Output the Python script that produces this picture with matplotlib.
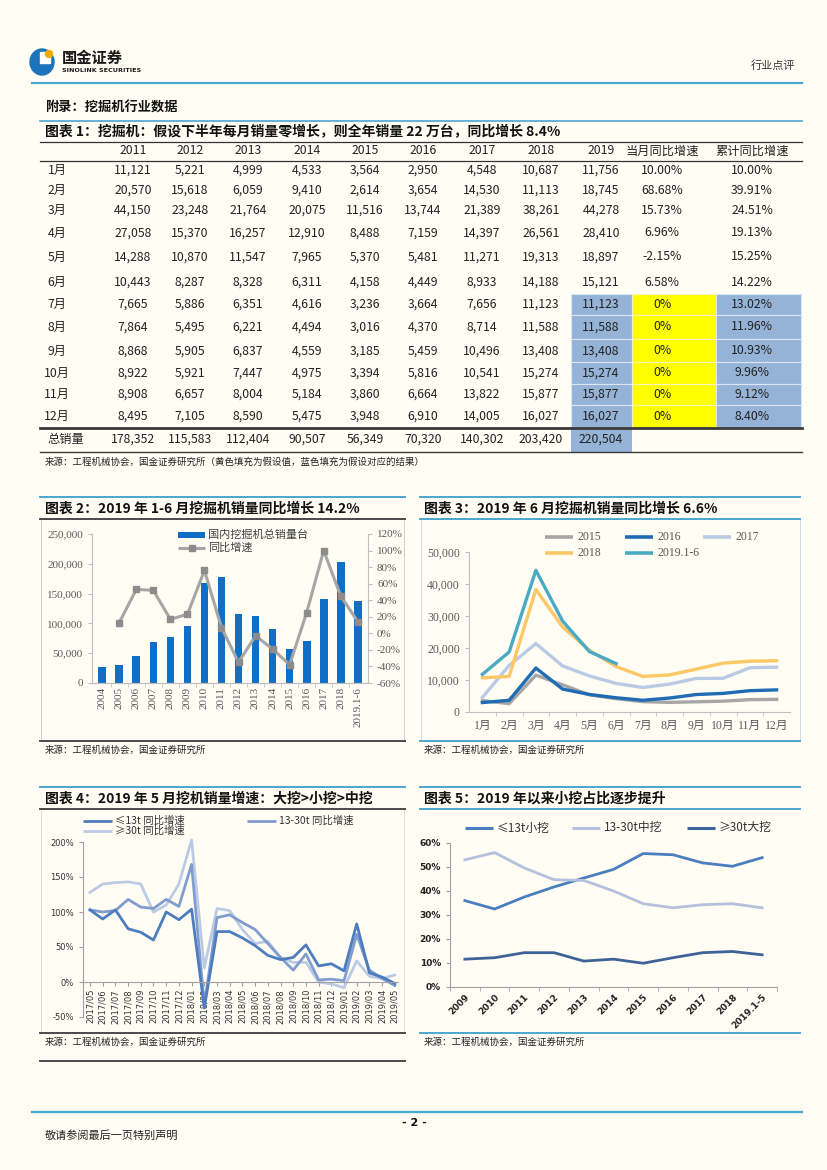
import numpy as np
import matplotlib
matplotlib.use("Agg")
import matplotlib.pyplot as plt
from matplotlib.lines import Line2D
from matplotlib.patches import Rectangle, Ellipse

plt.rcParams['font.family'] = ['Noto Sans CJK SC', 'DejaVu Sans']
plt.rcParams['axes.unicode_minus'] = False

W, H = 827, 1170
BG = '#fffdf4'
BLUE_LINE = '#4aa6cf'
DARK_LINE = '#4a4a4a'
SERIF = ['Liberation Serif', 'Noto Sans CJK SC']
CJK = ['Noto Sans CJK SC', 'DejaVu Sans']

# 图表1 表格数据
months = ['1月', '2月', '3月', '4月', '5月', '6月', '7月', '8月', '9月', '10月', '11月', '12月']
table_years = ['2011', '2012', '2013', '2014', '2015', '2016', '2017', '2018', '2019']
sales_2011 = [11121, 20570, 44150, 27058, 14288, 10443, 7665, 7864, 8868, 8922, 8908, 8495]
sales_2012 = [5221, 15618, 23248, 15370, 10870, 8287, 5886, 5495, 5905, 5921, 6657, 7105]
sales_2013 = [4999, 6059, 21764, 16257, 11547, 8328, 6351, 6221, 6837, 7447, 8004, 8590]
sales_2014 = [4533, 9410, 20075, 12910, 7965, 6311, 4616, 4494, 4559, 4975, 5184, 5475]
sales_2015 = [3564, 2614, 11516, 8488, 5370, 4158, 3236, 3016, 3185, 3394, 3860, 3948]
sales_2016 = [2950, 3654, 13744, 7159, 5481, 4449, 3664, 4370, 5459, 5816, 6664, 6910]
sales_2017 = [4548, 14530, 21389, 14397, 11271, 8933, 7656, 8714, 10496, 10541, 13822, 14005]
sales_2018 = [10687, 11113, 38261, 26561, 19313, 14188, 11123, 11588, 13408, 15274, 15877, 16027]
sales_2019 = [11756, 18745, 44278, 28410, 18897, 15121, 11123, 11588, 13408, 15274, 15877, 16027]
totals = [178352, 115583, 112404, 90507, 56349, 70320, 140302, 203420, 220504]
yoy_month = ['10.00%', '68.68%', '15.73%', '6.96%', '-2.15%', '6.58%', '0%', '0%', '0%', '0%', '0%', '0%']
yoy_cum = ['10.00%', '39.91%', '24.51%', '19.13%', '15.25%', '14.22%', '13.02%', '11.96%', '10.93%',
           '9.96%', '9.12%', '8.40%']

# 图表2
hist_years = ['2004', '2005', '2006', '2007', '2008', '2009', '2010', '2011', '2012', '2013', '2014',
              '2015', '2016', '2017', '2018', '2019.1-6']
annual_sales = [26500, 29500, 45000, 68000, 78000, 95500, 167000, 178352, 115583, 112404, 90507,
                56349, 70320, 140302, 203420, 137207]
annual_growth = [np.nan, 13, 53, 52, 17, 23, 76, 7, -35, -3, -19, -38, 25, 100, 45, 14.2]

# 图表4
ton_months = ['2017/05', '2017/06', '2017/07', '2017/08', '2017/09', '2017/10', '2017/11', '2017/12',
              '2018/01', '2018/02', '2018/03', '2018/04', '2018/05', '2018/06', '2018/07', '2018/08',
              '2018/09', '2018/10', '2018/11', '2018/12', '2019/01', '2019/02', '2019/03', '2019/04',
              '2019/05']
small_yoy = [103, 90, 103, 76, 71, 60, 100, 89, 104, -37, 72, 72, 63, 52, 38, 32, 35, 53, 23, 26,
             16, 83, 13, 7, -2]
mid_yoy = [103, 100, 102, 118, 107, 105, 118, 108, 168, -33, 92, 96, 85, 75, 55, 35, 17, 40, 3, 4,
           2, 68, 17, 5, -5]
large_yoy = [128, 140, 142, 143, 140, 100, 110, 140, 203, 20, 105, 102, 75, 55, 58, 35, 28, 28, 0, -3,
             -8, 30, 8, 5, 10]

# 图表5
share_years = ['2009', '2010', '2011', '2012', '2013', '2014', '2015', '2016', '2017', '2018', '2019.1-5']
share_small = [36, 32.5, 37.5, 41.7, 45.4, 49, 55.6, 55.1, 51.7, 50.3, 53.9]
share_mid = [53, 56, 49.6, 44.7, 44.4, 40, 34.7, 33, 34.3, 34.7, 33]
share_large = [11.6, 12.2, 14.3, 14.3, 10.8, 11.6, 9.9, 12.2, 14.3, 14.8, 13.4]


def fx(x):
    return x / W


def fy(y):
    return 1 - y / H


def box(x0, y0, x1, y1):
    return [fx(x0), fy(y1), (x1 - x0) / W, (y1 - y0) / H]


fig = plt.figure(figsize=(W / 100, H / 100), dpi=100, facecolor=BG)


def hline(y, x0, x1, color, lw=1.0):
    fig.add_artist(Line2D([fx(x0), fx(x1)], [fy(y), fy(y)], color=color, lw=lw,
                          transform=fig.transFigure))


def rect(x0, y0, x1, y1, **kw):
    fig.add_artist(Rectangle((fx(x0), fy(y1)), (x1 - x0) / W, (y1 - y0) / H,
                             transform=fig.transFigure, **kw))


def txt(x, y, s, **kw):
    kw.setdefault('va', 'center')
    kw.setdefault('family', CJK)
    fig.text(fx(x), fy(y), s, **kw)


def leg_line(x0, x1, y, color, lw=2.5, marker=None):
    fig.add_artist(Line2D([fx(x0), fx(x1)], [fy(y), fy(y)], color=color, lw=lw,
                          transform=fig.transFigure, solid_capstyle='butt'))
    if marker:
        fig.add_artist(Line2D([fx((x0 + x1) / 2)], [fy(y)], color=color, marker=marker, ms=5,
                              mfc='#8c8c8c', mec='#8c8c8c', transform=fig.transFigure))


# ---- 页眉 ----
fig.add_artist(Ellipse((fx(42), fy(62)), 24 / W, 26 / H, color='#1b74bb', transform=fig.transFigure))
rect(40, 52, 50, 63, color='white')
fig.add_artist(Ellipse((fx(49), fy(54)), 7 / W, 7 / H, color='#f2a900', transform=fig.transFigure))
txt(62, 58, '国金证券', fontsize=11, fontweight='bold', color='#1a1a1a')
txt(62, 71, 'SINOLINK SECURITIES', fontsize=4.6, fontweight='bold', color='#1a1a1a', family='DejaVu Sans')
txt(795, 66, '行业点评', fontsize=8, color='#333333', ha='right')
hline(83, 32, 802, BLUE_LINE, 1.6)

txt(45, 108, '附录：挖掘机行业数据', fontsize=9.5, fontweight='bold', color='#111111')

# ---- 图表1 表格 ----
hline(121, 40, 802, BLUE_LINE, 1.2)
txt(45, 132, '图表 1：挖掘机：假设下半年每月销量零增长，则全年销量 22 万台，同比增长 8.4%',
    fontsize=10, fontweight='bold', style='italic', color='#111111')
hline(142, 40, 802, '#333333', 0.9)
hline(161, 40, 802, '#333333', 0.9)

col_x = [57, 133, 190, 248, 307, 365, 423, 482, 541, 601, 662, 752]
row_y = [170, 190, 210, 233, 257, 282, 304, 327, 351, 373, 394, 416]
row_top = [294, 315, 339, 362, 384, 405, 428]

for i in range(6):
    rect(571, row_top[i], 632, row_top[i + 1], facecolor='#95b3d7', edgecolor='#dce6f2', lw=0.8)
    rect(632, row_top[i], 716, row_top[i + 1], facecolor='#ffff00', edgecolor='#f5f5c8', lw=0.8)
    rect(716, row_top[i], 801, row_top[i + 1], facecolor='#95b3d7', edgecolor='#dce6f2', lw=0.8)
rect(571, 428, 632, 452, facecolor='#95b3d7', edgecolor='none')

header = [''] + table_years + ['当月同比增速', '累计同比增速']
for x, h in zip(col_x, header):
    txt(x, 151, h, fontsize=8.8, ha='center', color='#222222')

year_sales = [sales_2011, sales_2012, sales_2013, sales_2014, sales_2015, sales_2016,
              sales_2017, sales_2018, sales_2019]
for r, m in enumerate(months):
    y = row_y[r]
    txt(col_x[0], y, m, fontsize=8.8, ha='center', color='#222222')
    for c, vals in enumerate(year_sales):
        txt(col_x[c + 1], y, f'{vals[r]:,}', fontsize=8.8, ha='center', color='#222222')
    txt(col_x[10], y, yoy_month[r], fontsize=8.8, ha='center', color='#222222')
    txt(col_x[11], y, yoy_cum[r], fontsize=8.8, ha='center', color='#222222')

hline(428, 40, 802, '#3a3a3a', 2.0)
txt(47, 439, '总销量', fontsize=8.8, ha='left', color='#222222')
for c, t in enumerate(totals):
    txt(col_x[c + 1], 439, f'{t:,}', fontsize=8.8, ha='center', color='#222222')
hline(452, 40, 802, '#3a3a3a', 1.0)
txt(45, 462, '来源：工程机械协会，国金证券研究所（黄色填充为假设值，蓝色填充为假设对应的结果）',
    fontsize=6.8, color='#222222')

# ---- 分区线与标题 ----
for top, bot, t_l, t_r in [(497, 741, '图表 2：2019 年 1-6 月挖掘机销量同比增长 14.2%',
                            '图表 3：2019 年 6 月挖掘机销量同比增长 6.6%'),
                           (787, 1033, '图表 4：2019 年 5 月挖机销量增速：大挖>小挖>中挖',
                            '图表 5：2019 年以来小挖占比逐步提升')]:
    hline(top, 40, 405, BLUE_LINE, 1.4)
    hline(top, 420, 800, BLUE_LINE, 1.4)
    txt(45, top + 12, t_l, fontsize=10, fontweight='bold', style='italic', color='#111111')
    txt(424, top + 12, t_r, fontsize=10, fontweight='bold', style='italic', color='#111111')
    hline(top + 22, 40, 405, DARK_LINE, 1.4)
    hline(top + 22, 420, 800, BLUE_LINE, 1.4)
    hline(bot, 40, 405, DARK_LINE, 1.4)
    hline(bot, 420, 800, BLUE_LINE, 1.4)
    txt(45, bot + 9, '来源：工程机械协会，国金证券研究所', fontsize=6.8, color='#222222')
    txt(424, bot + 9, '来源：工程机械协会，国金证券研究所', fontsize=6.8, color='#222222')
hline(1061, 40, 405, DARK_LINE, 1.4)

rect(41, 519, 404, 740, facecolor='none', edgecolor='#cfcfcf', lw=0.7)
rect(421, 519, 800, 740, facecolor='none', edgecolor='#c9dde8', lw=0.7)
rect(41, 809, 404, 1032, facecolor='none', edgecolor='#d6d6d6', lw=0.6)


def style_spines(ax, color='#bfbfbf'):
    for s in ax.spines.values():
        s.set_color(color)
        s.set_linewidth(0.8)
    ax.spines['top'].set_visible(False)
    ax.set_facecolor('none')


# ---- 图表2 ----
ax2 = fig.add_axes(box(92, 534, 368, 683))
x2 = np.arange(len(hist_years))
ax2.bar(x2, annual_sales, width=0.45, color='#0f6fc6', zorder=2)
ax2.set_xlim(-0.6, len(hist_years) - 0.4)
ax2.set_ylim(0, 250000)
ax2.set_yticks(range(0, 250001, 50000))
ax2.set_yticklabels([f'{v:,}' for v in range(0, 250001, 50000)])
ax2.set_xticks(x2)
ax2.set_xticklabels(hist_years, rotation=90)
ax2.set_xticks(x2[:-1] + 0.5, minor=True)
ax2.tick_params(axis='x', which='major', length=0, pad=3)
ax2.tick_params(axis='x', which='minor', length=3, color='#bfbfbf')
ax2.tick_params(axis='y', length=3, color='#bfbfbf')
for lab in ax2.get_xticklabels() + ax2.get_yticklabels():
    lab.set_family(SERIF)
    lab.set_fontsize(8)
    lab.set_color('#595959')
style_spines(ax2)
ax2.spines['right'].set_visible(False)

ax2r = ax2.twinx()
ax2r.plot(x2, annual_growth, color='#a6a6a6', lw=2.2, marker='s', ms=5, mfc='#8c8c8c',
          mec='#8c8c8c', zorder=3)
ax2r.set_ylim(-60, 120)
ax2r.set_yticks(range(-60, 121, 20))
ax2r.set_yticklabels([f'{v}%' for v in range(-60, 121, 20)])
ax2r.tick_params(axis='y', length=3, color='#bfbfbf')
for lab in ax2r.get_yticklabels():
    lab.set_family(SERIF)
    lab.set_fontsize(8)
    lab.set_color('#595959')
style_spines(ax2r)
ax2r.spines['left'].set_visible(False)

rect(178, 532, 205, 538, facecolor='#0f6fc6', edgecolor='none')
txt(208, 535, '国内挖掘机总销量台', fontsize=8, color='#404040')
leg_line(178, 205, 548, '#a6a6a6', lw=2.2, marker='s')
txt(208, 548, '同比增速', fontsize=8, color='#404040')

# ---- 图表3 ----
ax3 = fig.add_axes(box(469, 552, 790, 712))
x3 = np.arange(12)
series3 = [('2015', sales_2015, '#a6a6a6'), ('2016', sales_2016, '#1f6cb5'),
           ('2017', sales_2017, '#b9cae4'), ('2018', sales_2018, '#fcc865'),
           ('2019.1-6', sales_2019[:6], '#4aaac4')]
for name, vals, col in series3:
    ax3.plot(x3[:len(vals)], vals, color=col, lw=2.4, solid_joinstyle='round')
ax3.set_xlim(-0.5, 11.5)
ax3.set_ylim(0, 50000)
ax3.set_yticks(range(0, 50001, 10000))
ax3.set_yticklabels([f'{v:,}' for v in range(0, 50001, 10000)])
ax3.set_xticks(x3)
ax3.set_xticklabels(months)
ax3.set_xticks(x3[:-1] + 0.5, minor=True)
ax3.tick_params(axis='x', which='major', length=0, pad=6)
ax3.tick_params(axis='x', which='minor', length=3, color='#bfbfbf')
ax3.tick_params(axis='y', length=3, color='#bfbfbf')
for lab in ax3.get_xticklabels() + ax3.get_yticklabels():
    lab.set_family(SERIF)
    lab.set_fontsize(8.5)
    lab.set_color('#595959')
style_spines(ax3)
ax3.spines['right'].set_visible(False)

leg3 = [(545, 537), (625, 537), (703, 537), (545, 553), (625, 553)]
for (lx, ly), (name, vals, col) in zip(leg3, series3):
    leg_line(lx, lx + 28, ly, col, lw=2.6)
    txt(lx + 32, ly, name, fontsize=8.5, color='#595959', family=SERIF)

# ---- 图表4 ----
ax4 = fig.add_axes(box(83, 842, 398, 1017))
ax4.spines['bottom'].set_position(('data', 0))
x4 = np.arange(len(ton_months))
series4 = [('≤13t 同比增速', small_yoy, '#4d7cbf'), ('13-30t 同比增速', mid_yoy, '#819dcf'),
           ('≥30t 同比增速', large_yoy, '#bccbe5')]
for name, vals, col in series4[::-1]:
    ax4.plot(x4, vals, color=col, lw=2.0, solid_joinstyle='round', clip_on=False)
ax4.set_xlim(-0.55, len(ton_months) - 0.75)
ax4.set_ylim(-50, 200)
ax4.set_yticks(range(-50, 201, 50))
ax4.set_yticklabels([f'{v}%' for v in range(-50, 201, 50)])
ax4.set_xticks(x4)
ax4.set_xticklabels(ton_months)
ax4.tick_params(axis='x', length=3, color='#a0a0a0', pad=2, labelsize=6, labelcolor='#333333',
                labelrotation=90)
ax4.tick_params(axis='y', length=3, color='#a0a0a0', labelsize=6, labelcolor='#333333')
for lab in ax4.get_xticklabels() + ax4.get_yticklabels():
    lab.set_family('DejaVu Sans')
style_spines(ax4, '#a0a0a0')
ax4.spines['right'].set_visible(False)

leg4 = [(83, 821), (247, 821), (83, 831)]
for (lx, ly), (name, vals, col) in zip(leg4, series4):
    leg_line(lx, lx + 29, ly, col, lw=2.0)
    txt(lx + 32, ly, name, fontsize=7.5, color='#333333')

# ---- 图表5 ----
ax5 = fig.add_axes(box(450, 843, 777, 987))
x5 = np.arange(len(share_years))
series5 = [('≤13t小挖', share_small, '#4a7ebf'), ('13-30t中挖', share_mid, '#b4c0dc'),
           ('≥30t大挖', share_large, '#3e6399')]
for name, vals, col in series5:
    ax5.plot(x5, vals, color=col, lw=2.0, solid_joinstyle='round')
ax5.set_xlim(-0.5, len(share_years) - 0.5)
ax5.set_ylim(0, 60)
ax5.set_yticks(range(0, 61, 10))
ax5.set_yticklabels([f'{v}%' for v in range(0, 61, 10)])
ax5.set_xticks(x5)
ax5.set_xticklabels(share_years, rotation=45, ha='right', rotation_mode='anchor')
ax5.set_xticks(np.arange(len(share_years) + 1) - 0.5, minor=True)
ax5.tick_params(axis='x', which='major', length=0, pad=4, labelsize=6.5, labelcolor='#222222')
ax5.tick_params(axis='x', which='minor', length=3, color='#a0a0a0')
ax5.tick_params(axis='y', length=3, color='#a0a0a0', labelsize=6.5, labelcolor='#222222')
for lab in ax5.get_xticklabels() + ax5.get_yticklabels():
    lab.set_family('DejaVu Sans')
    lab.set_fontweight('bold')
style_spines(ax5, '#a0a0a0')
ax5.spines['right'].set_visible(False)

leg5 = [465, 572, 687]
for lx, (name, vals, col) in zip(leg5, series5):
    leg_line(lx, lx + 28, 828, col, lw=2.2)
    txt(lx + 32, 828, name, fontsize=8.5, color='#333333')

# ---- 页脚 ----
hline(1112, 32, 802, BLUE_LINE, 1.6)
txt(414, 1123, '- 2 -', fontsize=8, fontweight='bold', ha='center', color='#111111', family='DejaVu Sans')
txt(45, 1136, '敬请参阅最后一页特别声明', fontsize=8, color='#222222')

fig.savefig('out.png', dpi=100, facecolor=BG)
